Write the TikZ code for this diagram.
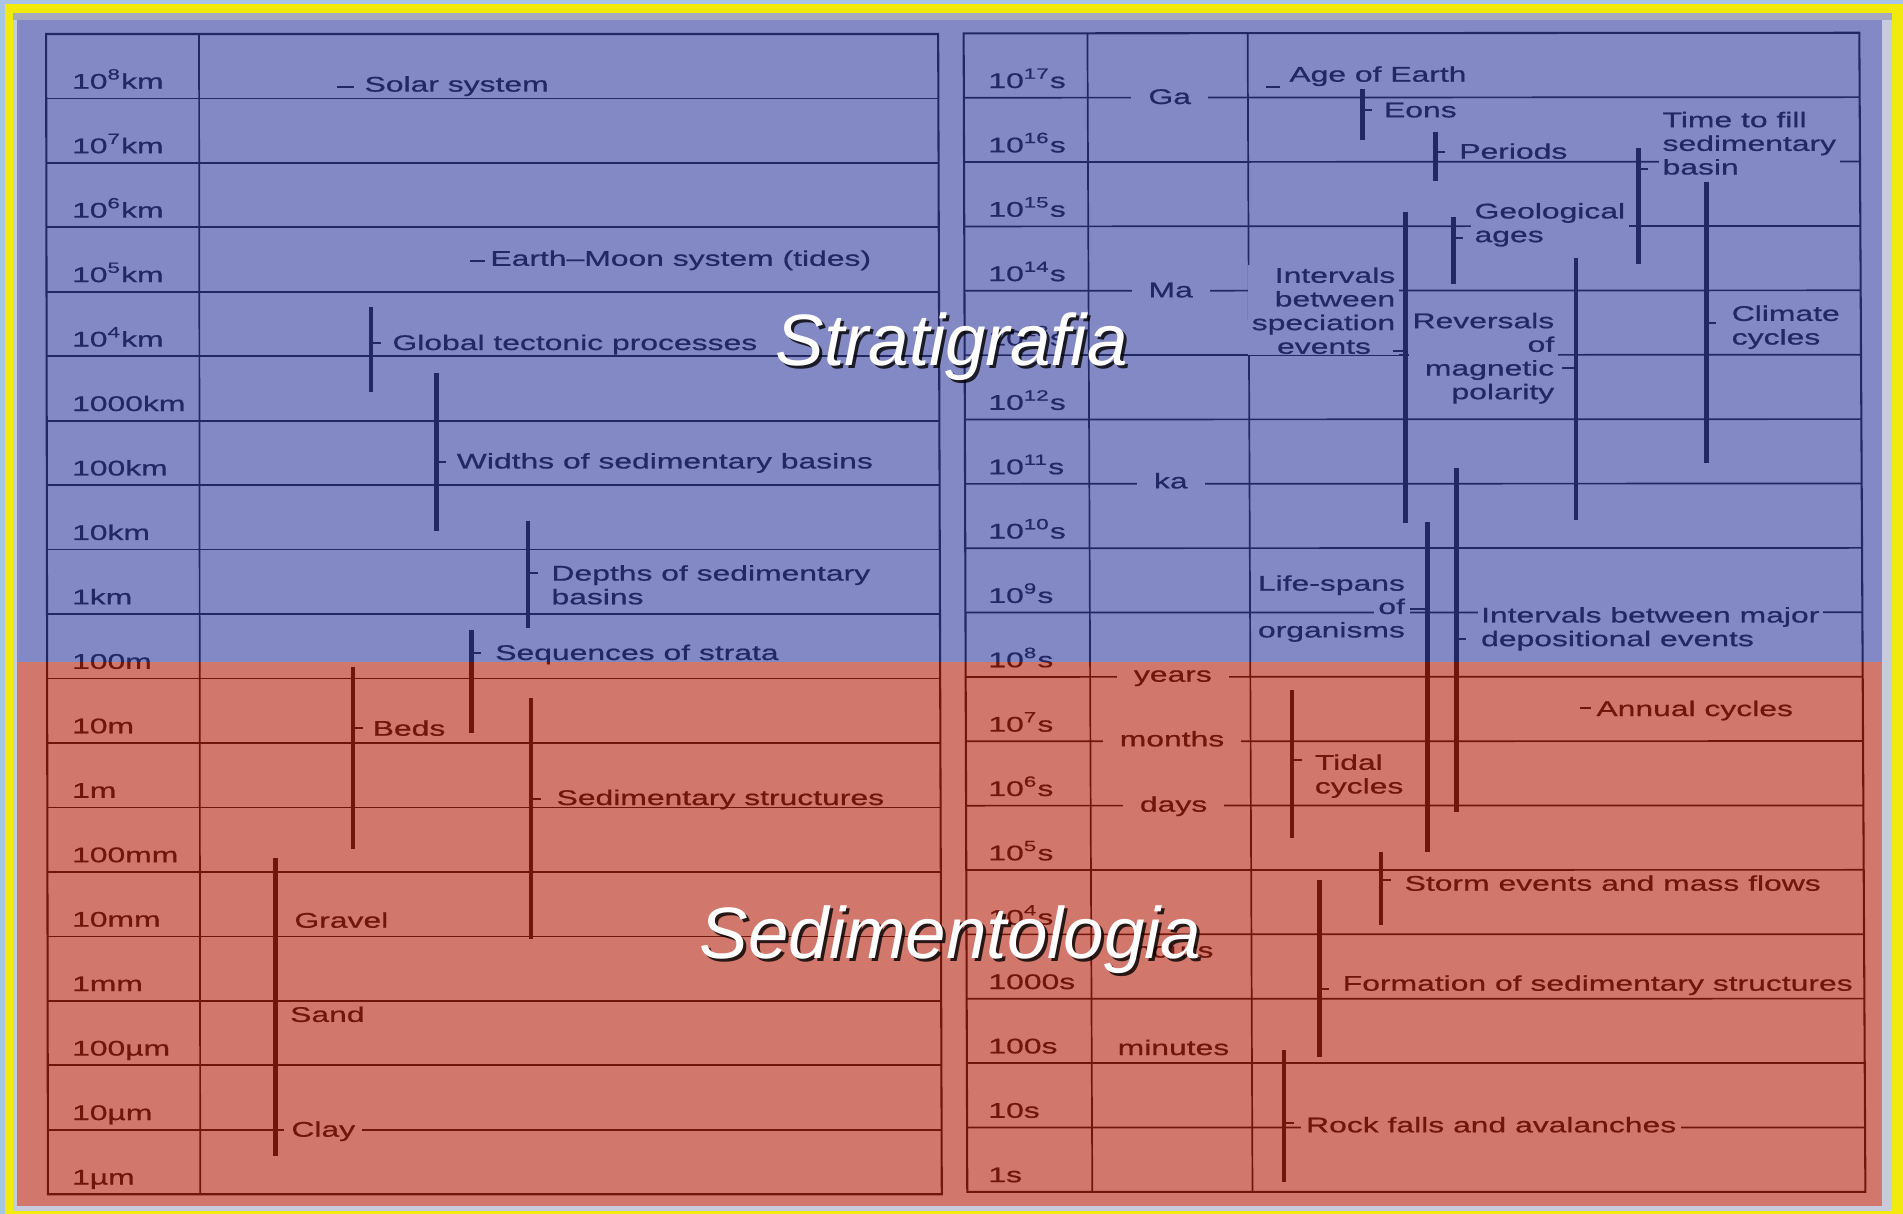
\documentclass[tikz,border=0pt]{standalone}
\usepackage{fontspec}
\setmainfont{Liberation Sans}[FakeStretch=1.5,FakeBold=0.8]
\newfontfamily\titlefont{Liberation Sans}
\usetikzlibrary{calc}
\definecolor{bgsky}{RGB}{170,196,232}
\definecolor{frameyellow}{RGB}{242,234,12}
\definecolor{bevellight}{RGB}{200,202,222}
\definecolor{beveldark}{RGB}{165,168,190}
\definecolor{ovblue}{RGB}{56,65,161}
\definecolor{ovred}{RGB}{182,37,18}
\newcommand\ps[1]{\textsuperscript{#1}}
\newcommand\tfs{\fontsize{8.75}{9.75}\selectfont}
\newcommand\vbar[4]{\coordinate (#1T) at (#2,#3); \coordinate (#1B) at (#2,#4); \draw[bar] (#1T) -- (#1B);}
\newcommand\tickr[4]{\coordinate (#1) at (#2,#3); \draw[tickln] (#1) -- ++(#4,0);}
\begin{document}
\begin{tikzpicture}[x=0.5pt,y=-0.5pt,
  tbl/.style={line width=0.85pt},
  divline/.style={line width=0.7pt},
  rowline/.style={line width=0.7pt},
  bar/.style={line width=1.9pt},
  tickln/.style={line width=0.85pt},
  txt/.style={font=\tfs, inner sep=0pt, anchor=base west},
  txtr/.style={font=\tfs, inner sep=0pt, anchor=base east},
  colab/.style={font=\tfs, inner xsep=7pt, inner ysep=1pt, anchor=base, fill=white},
  colabn/.style={font=\tfs, inner sep=0pt, anchor=base},
  blk/.style={font=\tfs, inner xsep=1.5pt, inner ysep=0.5pt, align=left, anchor=north west},
  blkr/.style={font=\tfs, inner xsep=1.5pt, inner ysep=0.5pt, align=right, anchor=north east},
  ko/.style={fill=white},
  title/.style={font=\titlefont\itshape\fontsize{30}{36}\selectfont, text=white, anchor=base, inner sep=0pt},
  tshadow/.style={font=\titlefont\itshape\fontsize{30}{36}\selectfont, text=black, text opacity=0.8, anchor=base, inner sep=0pt}
]
\useasboundingbox (0,0) rectangle (1568,1000);
% frame
\fill[bgsky] (0,0) rectangle (1568,1000);
\fill[frameyellow] (3.8,3.6) rectangle (1568,1000);
\fill[bevellight] (11,11) rectangle (1559,997.5);
\fill[beveldark] (11,11) rectangle (1559,16.5);
\fill[white] (14,16.5) rectangle (1551,993.7);

% ---------- left table ----------
\coordinate (LTL) at (38,28);
\coordinate (LTR) at (773,28);
\coordinate (LBR) at (776,984);
\coordinate (LBL) at (39.5,984);
\coordinate (LDT) at (164,28);
\coordinate (LDB) at (165,984);
\draw[tbl] (LTL) -- (LTR) -- (LBR) -- (LBL) -- cycle;
\draw[divline] (LDT) -- (LDB);
\foreach \i in {1,...,17} \draw[rowline] ($(LTL)!\i/18!(LBL)$) -- ($(LTR)!\i/18!(LBR)$);
\foreach \t [count=\i] in {{10\ps{8}km},{10\ps{7}km},{10\ps{6}km},{10\ps{5}km},{10\ps{4}km},{1000km},{100km},{10km},{1km},{100m},{10m},{1m},{100mm},{10mm},{1mm},{100µm},{10µm},{1µm}}
  \node[txt] (L\i) at (59,{28+53.11*\i-8}) {\t};

% ---------- right table ----------
\coordinate (RTL) at (794,27.5);
\coordinate (RTR) at (1532,27);
\coordinate (RBR) at (1537,982);
\coordinate (RBL) at (797,982);
\coordinate (RD1T) at (896,27.5);
\coordinate (RD1B) at (900,982);
\coordinate (RD2T) at (1028,27.5);
\coordinate (RD2B) at (1032,982);
\draw[tbl] (RTL) -- (RTR) -- (RBR) -- (RBL) -- cycle;
\draw[divline] (RD1T) -- (RD1B);
\draw[divline] (RD2T) -- (RD2B);
\foreach \i in {1,...,17} \draw[rowline] ($(RTL)!\i/18!(RBL)$) -- ($(RTR)!\i/18!(RBR)$);
\foreach \t [count=\i] in {{10\ps{17}s},{10\ps{16}s},{10\ps{15}s},{10\ps{14}s},{10\ps{13}s},{10\ps{12}s},{10\ps{11}s},{10\ps{10}s},{10\ps{9}s},{10\ps{8}s},{10\ps{7}s},{10\ps{6}s},{10\ps{5}s},{10\ps{4}s},{1000s},{100s},{10s},{1s}}
  \node[txt] (R\i) at (814,{27.5+53.03*\i-8}) {\t};

% column 2 labels
\node[colab] (ga) at (963.8,85.7) {Ga};
\node[colab] (ma) at (964.6,245) {Ma};
\node[colab] (ka) at (964.7,402.4) {ka};
\node[colab] (years) at (966.4,561.7) {years};
\node[colab] (months) at (965.7,615) {months};
\node[colab] (days) at (967,668.8) {days};
\node[colabn] (hours) at (967,789) {hours};
\node[colabn] (minutes) at (966.9,869.3) {minutes};

% ---------- left panel labels ----------
\node[txt] (solar) at (300,75.5) {Solar system};
\node[txt] (emoon) at (403.7,219) {Earth–Moon system (tides)};
\node[txt] (glob) at (323,288.4) {Global tectonic processes};
\node[txt] (wid) at (376,386) {Widths of sedimentary basins};
\node[blk] (dep) at (451,463.35) {\strut Depths of sedimentary\\basins};
\node[txt] (seq) at (407.7,543.8) {Sequences of strata};
\node[txt] (beds) at (306.7,606.2) {Beds};
\node[txt] (sst) at (458.2,663.3) {Sedimentary structures};
\node[txt] (grav) at (242.2,764.4) {Gravel};
\node[txt] (sand) at (238.7,842) {Sand};
\node[txt, fill=white, inner xsep=3pt, inner ysep=1pt] (clay) at (233.7,936.6) {Clay};

% ---------- right panel labels ----------
\node[txt] (aoe) at (1062,67.3) {Age of Earth};
\node[txt] (eons) at (1140,96.7) {Eons};
\node[txt] (per) at (1202,130.8) {Periods};
\node[blk,ko] (ttf) at (1366.5,89.75) {\strut Time to fill\\sedimentary\\basin};
\node[blk,ko] (geo) at (1211.6,164.95) {\strut Geological\\ages};
\node[blkr,ko] (spe) at (1153,217.95) {\strut Intervals\\between\\speciation\\events\hspace*{10pt}};
\node[blkr,ko] (rev) at (1284,255.35) {\strut Reversals\\of\\magnetic\\polarity};
\node[blk] (cli) at (1423.5,249.35) {\strut Climate\\cycles};
\node[txtr] (life1) at (1158,486.7) {Life-spans};
\node[txtr, fill=white, inner xsep=2pt, inner ysep=1pt] (life2) at (1162,505.9) {of};
\node[txtr] (life3) at (1158,525.2) {organisms};
\node[blk,ko] (imd) at (1217,497.85) {\strut Intervals between major\\depositional events};
\node[txt] (ann) at (1315,590) {Annual cycles};
\node[blk] (tid) at (1080,619.25) {\strut Tidal\\cycles};
\node[txt] (sto) at (1157,733.9) {Storm events and mass flows};
\node[txt] (form) at (1106,816.3) {Formation of sedimentary structures};
\node[txt, fill=white, inner xsep=2pt, inner ysep=1pt] (rock) at (1071.8,933) {Rock falls and avalanches};

% ---------- bars and ticks: left ----------
\tickr{solK}{277.5}{72}{14}
\tickr{emK}{387.5}{214.8}{12}
\vbar{gtp}{305.8}{252.7}{322.7}  \tickr{gtpK}{305.8}{283}{8}
\vbar{wsb}{359.8}{307.6}{437.3}  \tickr{wsbK}{359.8}{380.4}{8}
\vbar{dsb}{435}{429}{517.7}      \tickr{dsbK}{435}{471.8}{8}
\vbar{sos}{388.5}{519.1}{604.2}  \tickr{sosK}{388.5}{538.3}{8}
\vbar{bed}{291}{549.3}{699.8}    \tickr{bedK}{291}{600.1}{8}
\vbar{sst}{437.5}{574.9}{774}    \tickr{sstK}{437.5}{658.5}{8}
\vbar{gsc}{227}{706.7}{952.6}

% ---------- bars and ticks: right ----------
\tickr{aoeK}{1043}{72}{12}
\vbar{eon}{1122.8}{73.6}{115.4}  \tickr{eonK}{1122.8}{91}{8}
\vbar{prd}{1183}{108.5}{149}     \tickr{prdK}{1183}{125}{8}
\vbar{tfb}{1350}{122}{217.5}     \tickr{tfbK}{1350}{139.5}{8}
\vbar{gag}{1197.7}{179}{234}     \tickr{gagK}{1197.7}{196.4}{8}
\vbar{spb}{1158.2}{174.4}{431}   \tickr{spbK}{1147.5}{289}{10.7}
\vbar{rmp}{1298.4}{212.3}{428.5} \tickr{rmpK}{1287}{303.5}{11.4}
\vbar{clc}{1406.2}{149.7}{381.7} \tickr{clcK}{1406.2}{266}{8}
\vbar{lso}{1176}{430}{701.8}     \tickr{lsoK}{1162}{502}{14}
\vbar{ibm}{1200}{386}{668.8}     \tickr{ibmK}{1200}{526.3}{8}
\tickr{annK}{1302}{583.7}{9}
\vbar{tdc}{1064.6}{568.6}{690.8} \tickr{tdcK}{1064.6}{626.2}{8}
\vbar{sem}{1138}{701.8}{762.2}   \tickr{semK}{1138}{724.9}{8}
\vbar{fss}{1087.4}{725}{870.7}   \tickr{fssK}{1087.4}{815.2}{8}
\vbar{rfa}{1058}{865.2}{973.7}   \tickr{rfaK}{1058}{925.4}{8}

% ---------- colour overlays ----------
\fill[ovblue, fill opacity=0.62] (14,16.5) rectangle (1551,545.5);
\fill[ovred, fill opacity=0.62] (14,545.5) rectangle (1551,993.7);

% ---------- titles ----------
\node[tshadow] (strS) at (786.5,303.5) {Stratigrafia};
\node[title] (str) at (784,300.8) {Stratigrafia};
\node[tshadow] (sedS) at (785.7,792.6) {Sedimentologia};
\node[title] (sed) at (783.2,789.9) {Sedimentologia};
\end{tikzpicture}
\end{document}
